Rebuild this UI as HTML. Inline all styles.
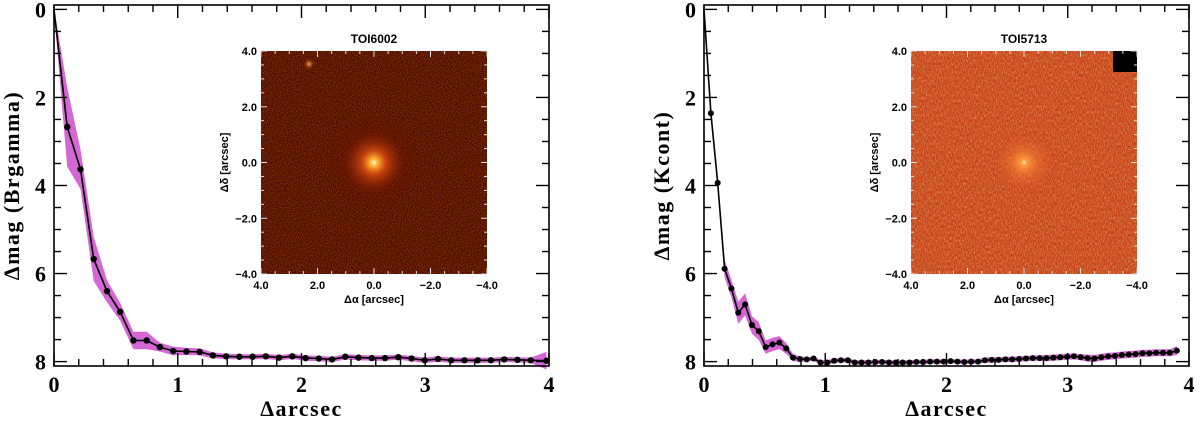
<!DOCTYPE html>
<html><head><meta charset="utf-8">
<style>
html,body{margin:0;padding:0;background:#fff;width:1200px;height:423px;overflow:hidden}
svg{display:block}
.tl{font-family:"Liberation Serif",serif;font-weight:bold;font-size:22px;fill:#000}
.at{font-family:"Liberation Serif",serif;font-weight:bold;font-size:22px;letter-spacing:1.5px;fill:#000}
.il{font-family:"Liberation Sans",sans-serif;font-weight:bold;font-size:11px;fill:#000}
</style></head>
<body>
<svg id="fig" width="1200" height="423" viewBox="0 0 1200 423" xmlns="http://www.w3.org/2000/svg">
<defs>
<filter id="noise1" x="0" y="0" width="100%" height="100%"><feTurbulence type="fractalNoise" baseFrequency="1.2" numOctaves="1" seed="3"/><feColorMatrix type="matrix" values="0 0 0 0 0.6  0 0 0 0 0.1  0 0 0 0 0  1.6 0 0 0 -0.55"/></filter>
<filter id="noise2" x="0" y="0" width="100%" height="100%"><feTurbulence type="fractalNoise" baseFrequency="0.9 0.35" numOctaves="2" seed="7"/><feColorMatrix type="matrix" values="0 0 0 0 1  0 0 0 0 0.5  0 0 0 0 0.2  1.2 0 0 0 -0.45"/></filter>
<radialGradient id="glow1"><stop offset="0" stop-color="#fff8d0"/><stop offset="0.08" stop-color="#ffb030"/><stop offset="0.25" stop-color="#d84a10" stop-opacity="0.85"/><stop offset="0.6" stop-color="#7a1404" stop-opacity="0.35"/><stop offset="1" stop-color="#4a0800" stop-opacity="0"/></radialGradient>
<radialGradient id="glow2"><stop offset="0" stop-color="#fff6e0"/><stop offset="0.07" stop-color="#ffa040"/><stop offset="0.35" stop-color="#f07a30" stop-opacity="0.6"/><stop offset="1" stop-color="#c8441a" stop-opacity="0"/></radialGradient>
<radialGradient id="glow3"><stop offset="0" stop-color="#ffa040"/><stop offset="1" stop-color="#7a1402" stop-opacity="0"/></radialGradient>
</defs>
</svg>
<script>
// Left panel data (TOI6002, Brgamma)
const leftSep = [0,0.107,0.214,0.321,0.428,0.535,0.642,0.749,0.856,0.963,1.07,1.177,1.284,1.391,1.498,1.605,1.712,1.819,1.926,2.033,2.14,2.247,2.354,2.461,2.568,2.675,2.782,2.889,2.996,3.103,3.21,3.317,3.424,3.531,3.638,3.745,3.852,3.98];
const leftMag = [0,2.67,3.63,5.67,6.4,6.87,7.52,7.52,7.67,7.76,7.77,7.78,7.86,7.88,7.89,7.89,7.88,7.91,7.88,7.92,7.93,7.95,7.89,7.91,7.92,7.92,7.9,7.93,7.97,7.94,7.97,7.97,7.97,7.97,7.95,7.96,7.97,7.98];
const leftErr = [0.05,0.9,0.45,0.5,0.25,0.2,0.2,0.2,0.1,0.1,0.08,0.08,0.07,0.06,0.06,0.06,0.06,0.06,0.06,0.06,0.06,0.06,0.06,0.06,0.06,0.06,0.06,0.06,0.06,0.06,0.06,0.06,0.06,0.06,0.06,0.06,0.06,0.2];
// Right panel data (TOI5713, Kcont)
const rightSep = [0,0.0565,0.113,0.1695,0.226,0.2825,0.339,0.3955,0.452,0.5085,0.565,0.6215,0.678,0.7345,0.791,0.8475,0.904,0.9605,1.017,1.0735,1.13,1.1865,1.243,1.2995,1.356,1.4125,1.469,1.5255,1.582,1.6385,1.695,1.7515,1.808,1.8645,1.921,1.9775,2.034,2.0905,2.147,2.2035,2.26,2.3165,2.373,2.4295,2.486,2.5425,2.599,2.6555,2.712,2.7685,2.825,2.8815,2.938,2.9945,3.051,3.1075,3.164,3.2205,3.277,3.3335,3.39,3.4465,3.503,3.5595,3.616,3.6725,3.729,3.7855,3.842,3.9];
const rightMag = [0,2.36,3.94,5.89,6.34,6.89,6.7,7.17,7.31,7.67,7.61,7.57,7.7,7.91,7.94,7.95,7.93,8.02,8.02,7.98,7.97,7.97,8.02,8.02,8.02,8.01,8.01,8.02,8.02,8.02,8.02,8.01,8.01,8.0,8.0,8.0,7.99,8.0,8.01,8.0,8.0,7.97,7.96,7.96,7.95,7.95,7.94,7.93,7.92,7.92,7.92,7.91,7.9,7.89,7.88,7.9,7.92,7.93,7.9,7.88,7.87,7.85,7.84,7.83,7.81,7.81,7.8,7.8,7.8,7.75];
const rightErr = [0.05,0.15,0.15,0.2,0.2,0.25,0.25,0.2,0.2,0.15,0.15,0.15,0.12,0.08,0.06,0.05,0.05,0.05,0.05,0.05,0.05,0.05,0.05,0.05,0.05,0.05,0.05,0.05,0.05,0.05,0.05,0.05,0.05,0.05,0.05,0.05,0.05,0.05,0.05,0.05,0.05,0.06,0.06,0.06,0.06,0.06,0.06,0.06,0.06,0.06,0.07,0.07,0.07,0.07,0.07,0.07,0.08,0.08,0.08,0.08,0.08,0.08,0.08,0.08,0.08,0.08,0.08,0.08,0.08,0.1];
const xTickLabels = ["0","1","2","3","4"];
const yTickLabels = ["0","2","4","6","8"];
const insetTickLabels = ["4.0","2.0","0.0","\u22122.0","\u22124.0"];

const NS="http://www.w3.org/2000/svg";
const fig=document.getElementById('fig');
function mk(tag,attrs,parent){const e=document.createElementNS(NS,tag);for(const k in attrs)e.setAttribute(k,attrs[k]);(parent||fig).appendChild(e);return e;}

function panel(o){
  const g=mk('g',{});
  
  
  const L=o.x0,R=o.x1,T=5,B=366;
  const xs=v=>L+(v/4)*(R-L);
  const ys=v=>T+((v+0.1)/8.2)*(B-T);
  let up=o.sep.map((s,i)=>xs(s).toFixed(1)+','+ys(o.mag[i]-o.err[i]).toFixed(1));
  let lo=o.sep.map((s,i)=>xs(s).toFixed(1)+','+ys(o.mag[i]+o.err[i]).toFixed(1)).reverse();
  const band=mk('polygon',{points:up.concat(lo).join(' '),fill:'#d467d4'},g);
  
  
  const line=mk('polyline',{points:o.sep.map((s,i)=>xs(s).toFixed(1)+','+ys(o.mag[i]).toFixed(1)).join(' '),fill:'none',stroke:'#000','stroke-width':1.6},g);
  
  
  o.sep.forEach((s,i)=>{ if(i===0) return;
    const c=mk('circle',{cx:xs(s),cy:ys(o.mag[i]),r:o.r,fill:'#000'},g);
    
    
  });
  const fr=mk('rect',{x:L,y:T,width:R-L,height:B-T,fill:'none',stroke:'#000','stroke-width':1.6},g);
  
  
  for(let v=0;v<=4.001;v+=0.2){const X=xs(v);const big=Math.abs(v-Math.round(v))<0.01;const len=big?13:7;
    mk('line',{x1:X,y1:B,x2:X,y2:B-len,stroke:'#000','stroke-width':1.4},g);
    mk('line',{x1:X,y1:T,x2:X,y2:T+len,stroke:'#000','stroke-width':1.4},g);}
  for(let v=0;v<=8.001;v+=0.5){const Y=ys(v);const big=Math.abs(v/2-Math.round(v/2))<0.01;const len=big?13:7;
    mk('line',{x1:L,y1:Y,x2:L+len,y2:Y,stroke:'#000','stroke-width':1.4},g);
    mk('line',{x1:R,y1:Y,x2:R-len,y2:Y,stroke:'#000','stroke-width':1.4},g);}
  xTickLabels.forEach((t,i)=>{const e=mk('text',{x:xs(i),y:392,'text-anchor':'middle',class:'tl'},g);e.textContent=t;
    });
  yTickLabels.forEach((t,i)=>{const e=mk('text',{x:L-8,y:ys(i*2)+8,'text-anchor':'end',class:'tl'},g);e.textContent=t;
    });
  const xt=mk('text',{x:(L+R)/2,y:416,'text-anchor':'middle',class:'at'},g);xt.textContent='\u0394arcsec';
  
  const yt=mk('text',{x:0,y:0,'text-anchor':'middle',class:'at',transform:`translate(${L-35},${(T+B)/2}) rotate(-90)`},g);yt.textContent=o.ytitle;
  
  const ig=mk('g',{},g);
  
  
  const iL=o.ix,iR=o.ix+226,iT=51,iB=274;
  mk('rect',{x:iL,y:iT,width:226,height:223,fill:o.bg},ig);
  mk('rect',{x:iL,y:iT,width:226,height:223,filter:o.noise},ig);
  o.extra(ig,iL,iT);
  const cx=iL+113,cy=iT+111.5;
  mk('circle',{cx,cy,r:o.glowR,fill:o.glow},ig);
  for(let k=0;k<=16;k++){const X=iL+k*226/16,Y=iT+k*223/16;const len=k%4===0?6:3;
    mk('line',{x1:X,y1:iB,x2:X,y2:iB-len,stroke:'#ddd','stroke-width':1},ig);
    mk('line',{x1:X,y1:iT,x2:X,y2:iT+len,stroke:'#ddd','stroke-width':1},ig);
    mk('line',{x1:iL,y1:Y,x2:iL+len,y2:Y,stroke:'#ddd','stroke-width':1},ig);
    mk('line',{x1:iR,y1:Y,x2:iR-len,y2:Y,stroke:'#ddd','stroke-width':1},ig);}
  insetTickLabels.forEach((t,i)=>{
    const a=mk('text',{x:iL+i*56.5,y:iB+15,'text-anchor':'middle',class:'il'},ig);a.textContent=t;
    
    const b=mk('text',{x:iL-4,y:iT+i*55.75+4,'text-anchor':'end',class:'il'},ig);b.textContent=t;
    });
  const ti=mk('text',{x:cx,y:43,'text-anchor':'middle',class:'il',style:'font-size:12px'},ig);ti.textContent=o.title;
  
  const ix=mk('text',{x:cx,y:iB+29,'text-anchor':'middle',class:'il'},ig);ix.textContent='\u0394\u03b1 [arcsec]';
  
  const iy=mk('text',{x:0,y:0,'text-anchor':'middle',class:'il',transform:`translate(${iL-33},${cy}) rotate(-90)`},ig);iy.textContent='\u0394\u03b4 [arcsec]';
  
}
panel({name:'left-panel',x0:54,x1:549,sep:leftSep,mag:leftMag,err:leftErr,r:3.2,ytitle:'\u0394mag (Brgamma)',ix:261,title:'TOI6002',bg:'#3a0500',noise:'url(#noise1)',glow:'url(#glow1)',glowR:48,
  extra:(ig,l,t)=>{mk('circle',{cx:l+48,cy:t+13,r:6,fill:'url(#glow3)'},ig);}});
panel({name:'right-panel',x0:704,x1:1189,sep:rightSep,mag:rightMag,err:rightErr,r:3,ytitle:'\u0394mag (Kcont)',ix:911,title:'TOI5713',bg:'#c4431a',noise:'url(#noise2)',glow:'url(#glow2)',glowR:35,
  extra:(ig,l,t)=>{const b=mk('rect',{x:l+202,y:t,width:24,height:21,fill:'#000'},ig);}});
</script>
</body></html>
